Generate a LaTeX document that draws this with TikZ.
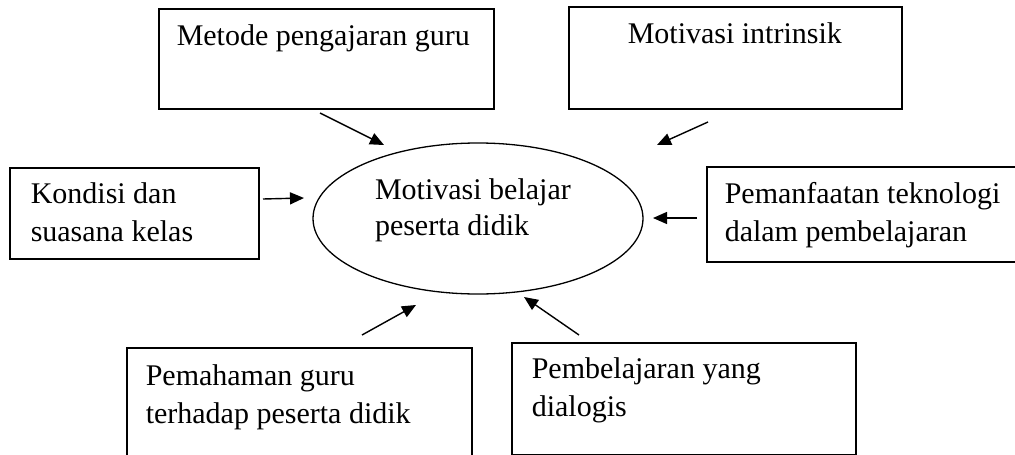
\documentclass[tikz,border=0pt]{standalone}
\usepackage{fontspec}
\setmainfont{Liberation Serif}
\usetikzlibrary{arrows.meta,shapes.geometric}
\newcommand\bxt[5]{\parbox[c][#2pt][t]{#1pt}{\vspace*{\dimexpr #3pt-\ht\strutbox\relax}\leftskip=#4pt\relax\rightskip=0pt plus 1fil\relax\noindent\strut #5}}
\tikzset{
  box/.style={draw, line width=1.5pt, anchor=north west, inner sep=0pt},
  arr/.style={line width=1.4pt, -{Triangle[length=14pt,width=12pt]}},
}
\begin{document}
\begin{tikzpicture}[x=1pt,y=-1pt,font={\fontsize{30}{38}\selectfont}]
\fill[white] (0,0) rectangle (1015,455);
\useasboundingbox (0,0) rectangle (1015,455);
\clip (0,0) rectangle (1015,455);
\node[box] (metode) at (158,8) {\bxt{335}{100}{37}{18}{Metode pengajaran guru}};
\node[box] (intrinsik) at (568,6) {\bxt{333}{102}{37}{59}{Motivasi intrinsik}};
\node[box] (kondisi) at (9,167) {\bxt{249}{91}{36}{21}{Kondisi dan\\suasana kelas}};
\node[box] (teknologi) at (706,166) {\bxt{330}{95}{37}{18}{Pemanfaatan teknologi\\dalam pembelajaran}};
\node[box] (pemahaman) at (126,347) {\bxt{345}{130}{38}{19}{Pemahaman guru\\terhadap peserta didik}};
\node[box] (dialogis) at (511,342) {\bxt{344}{112}{36}{20}{Pembelajaran yang\\dialogis}};
\node[ellipse, draw, line width=1.3pt, minimum width=330pt, minimum height=151pt, inner sep=0pt] (pusat) at (478,218.5) {\bxt{206}{100}{30.5}{0}{\baselineskip=36pt Motivasi belajar\\peserta didik}};
\coordinate (a1s) at (320,113); \coordinate (a1e) at (384,145);
\coordinate (a2s) at (708,122); \coordinate (a2e) at (657,145);
\coordinate (a3s) at (263,199); \coordinate (a3e) at (304,198);
\coordinate (a4s) at (697,218); \coordinate (a4e) at (653,218);
\coordinate (a5s) at (362,335); \coordinate (a5e) at (416,305);
\coordinate (a6s) at (579,335); \coordinate (a6e) at (524,297);
\draw[arr] (a1s) -- (a1e);
\draw[arr] (a2s) -- (a2e);
\draw[arr] (a3s) -- (a3e);
\draw[arr] (a4s) -- (a4e);
\draw[arr] (a5s) -- (a5e);
\draw[arr] (a6s) -- (a6e);
\end{tikzpicture}
\end{document}
